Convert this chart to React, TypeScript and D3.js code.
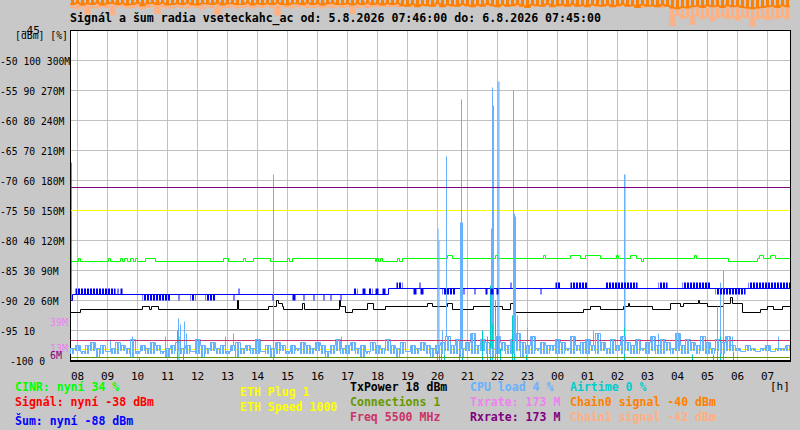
import { useEffect, useRef } from 'react';
import * as d3 from 'd3';

const START = new Date(2026, 7, 5, 7, 46);
const END = new Date(2026, 7, 6, 7, 46);

const title = 'Signál a šum radia vseteckahc_ac od: 5.8.2026 07:46:00 do: 6.8.2026 07:45:00';

// left axis: dBm / % / rate columns
const dbmTicks = [-50, -55, -60, -65, -70, -75, -80, -85, -90, -95, -100];
const pctTicks = [100, 90, 80, 70, 60, 50, 40, 30, 20, 10, 0];
const rateTicks = ['300M', '270M', '240M', '210M', '180M', '150M', '120M', '90M', '60M', '', ''];
const txrateMarks = [39, 13];
const rxrateMarks = [6];

// flat series
const txrateNow = 173;
const rxrateNow = 173;
const ethSpeedLevel = 150;
const ethPlugLevel = 11;
const freqLevel = 20;
const connectionsNow = 1;

// CINR [%], step changes
const cinrSteps: [string, number][] = [
  ['07:46', 33], ['08:02', 34], ['08:06', 33], ['09:02', 34], ['09:06', 33],
  ['09:26', 34], ['09:30', 33], ['09:34', 34], ['09:40', 33], ['09:46', 34], ['09:52', 33], ['09:56', 34], ['10:00', 33],
  ['10:16', 34], ['10:36', 33], ['12:52', 34], ['13:02', 33], ['13:32', 34], ['13:36', 33],
  ['13:52', 34], ['14:26', 33], ['15:00', 34], ['15:04', 33], ['15:10', 34],
  ['17:56', 33], ['17:58', 34], ['18:02', 33], ['18:06', 34], ['18:10', 33], ['18:40', 34], ['18:44', 33], ['18:50', 34],
  ['20:20', 35], ['20:30', 34], ['21:56', 35], ['22:00', 34], ['23:32', 35], ['23:36', 34],
  ['00:26', 35], ['00:46', 34], ['00:56', 35], ['01:26', 34], ['01:58', 35], ['02:02', 34],
  ['02:26', 35], ['02:38', 34], ['02:48', 33], ['02:52', 34], ['04:34', 35], ['04:38', 34],
  ['05:42', 33], ['06:40', 34], ['06:44', 35], ['06:52', 34], ['07:06', 35], ['07:16', 34],
];

// noise [dBm]
const noiseSteps: [string, number][] = [['07:46', -67], ['07:47', -90], ['07:50', -89], ['18:22', -88]];
const noiseBursts: [string, string, number][] = [
  ['07:56', '09:16', -88], ['09:20', '09:22', -88], ['09:26', '09:30', -88],
  ['10:10', '11:06', -90], ['11:22', '11:24', -90], ['11:46', '11:56', -90], ['12:16', '12:36', -90], ['13:12', '13:14', -90],
  ['13:22', '13:24', -88],
  ['14:30', '14:32', -90], ['15:10', '15:16', -90], ['15:32', '15:34', -90], ['15:52', '15:54', -90],
  ['16:12', '16:14', -90], ['16:26', '16:28', -90], ['16:46', '16:48', -90],
  ['17:12', '17:20', -88], ['17:30', '17:36', -88], ['17:42', '17:50', -88], ['17:56', '18:02', -88], ['18:10', '18:16', -88],
  ['18:38', '18:50', -87], ['19:24', '19:26', -87],
  ['19:12', '19:18', -89], ['19:26', '19:32', -89], ['20:10', '20:36', -89], ['20:52', '20:54', -89], ['21:14', '21:16', -89],
  ['21:36', '21:40', -89], ['21:46', '21:52', -89], ['21:58', '22:02', -89],
  ['22:26', '22:28', -87], ['23:26', '23:28', -89],
  ['23:56', '00:06', -87], ['00:26', '01:00', -87], ['01:36', '02:40', -87], ['03:22', '03:40', -87],
  ['04:10', '05:06', -87], ['05:16', '06:16', -89], ['06:22', '07:45', -87],
];

// TxPower [dBm], plotted on the % scale
const txPowerSteps: [string, number][] = [
  ['07:46', 16], ['08:06', 17], ['10:10', 18], ['10:24', 17], ['10:28', 18], ['10:42', 17],
  ['13:20', 20], ['13:22', 17], ['14:22', 18], ['14:38', 20], ['14:42', 19], ['14:50', 18], ['14:52', 17],
  ['15:30', 19], ['15:34', 17], ['16:44', 20], ['16:46', 18], ['16:56', 16], ['17:10', 17],
  ['17:40', 19], ['17:52', 17], ['18:16', 18], ['19:40', 19], ['19:50', 18], ['20:20', 19], ['20:30', 17],
  ['21:12', 18], ['22:10', 17], ['22:26', 19], ['22:32', 16],
  ['00:52', 17], ['01:06', 18], ['01:26', 17], ['02:12', 18], ['02:22', 19], ['02:24', 18], ['03:10', 17],
  ['03:46', 19], ['04:06', 18], ['04:12', 19], ['04:42', 20], ['04:44', 19], ['05:00', 18],
  ['05:32', 19], ['05:46', 21], ['05:50', 19], ['06:10', 16], ['06:46', 17], ['07:00', 18], ['07:12', 17], ['07:30', 18],
];

// CPU load [%], highest and lowest value in each 10 minutes from 07:46
const cpuLoad = [
  4, 5, 3, 5, 6, 4, 5, 3, 4, 6, 5, 4, 7, 3, 5, 4, 6, 5, 3, 4,
  5, 6, 4, 5, 3, 7, 5, 4, 6, 4, 5, 3, 5, 6, 4, 5, 4, 7, 3, 5,
  4, 6, 5, 3, 5, 4, 6, 5,
  4, 6, 5, 3, 5, 7, 4, 5, 6, 4, 5, 3, 6, 5, 4, 7, 5, 4, 6, 3,
  5, 4, 6, 5, 4, 5,
  6, 8, 5, 7, 4, 6, 9, 5, 7, 6, 4, 8, 6, 5, 7, 9, 6, 5, 8, 4, 6, 5,
  5, 7, 6, 4, 8, 5, 6, 7, 5, 9, 6, 4, 7, 5, 8, 6, 5, 7, 4, 6,
  8, 5, 7, 6, 4, 9, 5, 7, 6, 5, 8, 6, 4, 7, 6, 8, 5,
  4, 3, 5, 4, 3, 4, 5, 3, 4, 4, 5,
];
const cpuLow = [
  2, 3, 2, 2, 3, 1, 2, 3, 2, 2, 3, 2, 1, 2, 3, 2, 2, 3, 2, 1,
  2, 3, 2, 2, 3, 2, 1, 2, 3, 2, 2, 2, 3, 1, 2, 3, 2, 2, 3, 2,
  1, 2, 3, 2, 2, 3, 2, 2,
  2, 3, 2, 1, 2, 3, 2, 2, 3, 2, 1, 2, 3, 2, 2, 3, 2, 1, 2, 3,
  2, 2, 3, 2, 1, 2,
  2, 3, 2, 2, 1, 3, 2, 2, 3, 2, 1, 2, 3, 2, 2, 3, 1, 2, 2, 3, 2, 2,
  3, 2, 2, 3, 2, 3, 2, 2, 3, 2, 3, 2, 2, 3, 2, 3, 2, 2, 3, 2,
  3, 2, 2, 3, 2, 3, 2, 2, 3, 2, 3, 2, 2, 3, 2, 3, 3,
  3, 3, 3, 3, 3, 3, 3, 3, 3, 3, 3,
];
const cpuSpikes: [string, number][] = [
  ['09:06', 7], ['09:50', 8], ['10:56', 8], ['11:22', 14], ['11:26', 12], ['11:34', 13], ['11:38', 9],
  ['12:56', 8], ['13:12', 9], ['14:32', 62], ['16:48', 8],
  ['20:01', 44], ['20:03', 40], ['20:10', 10], ['20:18', 68], ['20:46', 46], ['20:48', 87], ['20:50', 46],
  ['21:48', 44], ['21:50', 91], ['21:52', 85], ['22:01', 93], ['22:03', 93], ['22:32', 90], ['22:34', 49],
  ['22:36', 48], ['22:40', 15], ['23:00', 11],
  ['01:12', 10], ['02:14', 62], ['02:15', 62], ['03:22', 9], ['05:20', 18], ['05:26', 26], ['05:32', 30],
  ['05:50', 8], ['07:22', 8],
];

// Airtime [%]
const airtimeSpikes: [string, number][] = [
  ['10:04', 1], ['11:20', 10], ['11:23', 8], ['11:32', 3], ['14:32', 3],
  ['20:00', 3], ['20:04', 2], ['20:08', 3], ['20:14', 2], ['20:44', 3], ['20:50', 2],
  ['21:30', 10], ['21:40', 8], ['21:46', 25], ['21:50', 12], ['21:56', 20], ['22:00', 8], ['22:06', 4],
  ['22:30', 15], ['22:34', 5], ['22:58', 2],
  ['02:14', 11], ['04:30', 2], ['05:12', 2], ['05:20', 6], ['05:26', 8], ['05:32', 7], ['05:52', 3],
];

// chain signals [dBm], lowest value in each 10 minutes from 07:46
const chain0 = [
  -40.7, -40.5, -40.8, -40.6, -40.7, -40.5, -40.8, -40.6, -40.5, -40.7,
  -40.6, -40.8, -40.7, -40.5, -40.9, -40.6, -40.5, -40.7, -40.5, -40.8,
  -40.7, -40.6, -40.7, -40.5, -40.7, -40.8, -40.6, -40.6, -40.7, -40.5,
  -40.8, -40.6, -40.6, -40.7, -40.7, -40.5, -40.8, -40.6, -40.7, -40.6,
  -40.7, -40.5, -40.7, -40.8, -40.6, -40.6, -40.7, -40.5, -40.7, -40.6,
  -40.8, -40.6, -40.5, -40.7, -40.7, -40.6, -40.8, -40.6, -40.7, -40.5,
  -40.7, -40.6, -40.8, -40.6, -40.7, -40.6,
  -40.9, -41, -40.7, -41.1, -40.8, -40.9, -41, -40.6, -41.1, -40.8,
  -40.9, -41, -40.7, -40.9, -41.1, -40.8, -41, -40.7, -40.9, -41.1,
  -40.8, -41, -40.9, -40.7, -41, -41.2, -40.8, -40.9, -41, -40.7,
  -41.1, -40.9, -40.8, -41, -40.7, -41, -40.9, -41.1, -40.8, -40.9,
  -41, -40.8, -41.1, -40.9, -40.7, -41, -40.9, -41.2, -40.8, -41,
  -40.9, -41.1, -40.8, -41,
  -41.3, -41.4, -41.2, -41.3, -41.1, -41, -41.2, -40.9, -41.1, -41,
  -41.2, -40.9, -41.1, -41, -41.2, -41.3, -41.4, -41.3, -41.2, -41.1,
  -41, -41.2, -40.9, -41.1,
];
const chain1 = [
  -41.2, -41.4, -41.1, -42.3, -41.2, -41.3, -41, -41.2, -42.4, -41.1,
  -41, -41.3, -41.2, -41.1, -41.4, -41.2, -41, -42.2, -41.1, -41.3,
  -41.3, -41.1, -41.2, -41.3, -41, -41.2, -41.4, -41.1, -41.2, -42.3,
  -41.3, -41.2, -41, -41.3, -41.2, -41.1, -41.3, -41.1, -41.2, -41,
  -41.2, -42.4, -41.1, -41.2, -41.3, -41.1, -41, -41.2, -41.2, -41.1,
  -41.3, -41.1, -41.2, -41, -41.2, -41.1, -42.2, -41.2, -41.1, -41.2,
  -41, -41.1, -41, -41.1, -41, -41.1,
  -41, -40.8, -41.1, -40.9, -41, -40.7, -41.1, -40.9, -40.8, -41,
  -41.1, -40.8, -40.9, -41, -40.7, -41.1, -40.9, -41, -40.8, -41.1,
  -40.9, -41, -40.8, -41.1, -40.9, -40.7, -41, -40.9, -41.1, -40.8,
  -41, -40.9, -41.1, -40.8, -41, -40.9, -40.7, -41, -40.8, -41.1,
  -40.9, -41, -40.8, -41.1, -40.9, -41, -40.8, -41, -41.2, -40.9,
  -41.1, -41, -41.2, -40.9,
  -44.2, -42.5, -43, -42.8, -44, -42.6, -43.1, -42.7, -43.4, -42.9,
  -42.6, -43, -42.8, -43.3, -42.7, -42.9, -44.3, -43.1, -42.8, -43.2,
  -42.9, -43, -42.7, -43.1,
];

const legendLabels = [
  'CINR: nyní 34 %', 'Signál: nyní -38 dBm', 'Šum: nyní -88 dBm',
  'ETH Plug 1', 'ETH Speed 1000',
  'TxPower 18 dBm', 'Connections 1', 'Freq 5500 MHz',
  'CPU load 4 %', 'Txrate: 173 M', 'Rxrate: 173 M',
  'Airtime 0 %', 'Chain0 signal -40 dBm', 'Chain1 signal -42 dBm',
];

const C = {
  bg: '#c8c8c8', grid: '#c0c0c0',
  cinr: '#00ff00', signal: '#ff0000', noise: '#0000ff', eth: '#ffff00', tx: '#000000',
  conn: '#669900', freq: '#cc3366', cpu: '#66b2ff', txrate: '#ee82ee', rxrate: '#800080',
  air: '#00cccc', chain0: '#ff8000', chain1: '#ffb080',
};
const MONO = "'DejaVu Sans Mono', monospace";

const at = (s: string) => {
  const [h, m] = s.split(':').map(Number);
  const day = h * 60 + m < 7 * 60 + 46 ? 6 : 5;
  return new Date(2026, 7, day, h, m);
};

export default function App() {
  const svgRef = useRef<SVGSVGElement>(null);

  useEffect(() => {
    if (!svgRef.current) return;
    const svg = d3.select(svgRef.current);
    svg.selectAll('*').remove();

    const x = d3.scaleTime().domain([START, END]).range([70, 790]);
    const yDbm = d3.scaleLinear().domain([-100, -45]).range([360, 30]);
    const yPct = d3.scaleLinear().domain([0, 110]).range([360, 30]);
    const yRate = d3.scaleLinear().domain([0, 330]).range([360, 30]);
    const tAt = (i: number) => d3.timeMinute.offset(START, 10 * i);
    const extend = (a: number[]) => [...a, a[a.length - 1]];

    const defs = svg.append('defs');
    const pattern = (id: string, color: string, period: number, fill: number, offset: number) => {
      const p = defs.append('pattern').attr('id', id).attr('patternUnits', 'userSpaceOnUse')
        .attr('width', period).attr('height', 4);
      p.append('rect').attr('x', offset).attr('width', fill).attr('height', 4).attr('fill', color);
    };
    pattern('p-noise', C.noise, 3, 2, 0);
    pattern('p-cpu', C.cpu, 3, 2, 0);

    svg.append('rect').attr('width', 800).attr('height', 430).attr('fill', C.bg);

    // chain signals run off the top of the plot, above the title
    const chains = svg.append('g');
    const drawChain = (data: number[], color: string) => {
      const pts: [number, number][] = extend(data).map((v, i) => [x(tAt(i)), yDbm(v)]);
      chains.append('g').selectAll('line').data(data).enter().append('line')
        .attr('x1', (_, i) => x(tAt(i)) + 2.5).attr('x2', (_, i) => x(tAt(i)) + 2.5)
        .attr('y1', 0).attr('y2', v => yDbm(v))
        .attr('stroke', color).attr('stroke-width', 3);
      chains.append('path').attr('d', d3.line().curve(d3.curveStepAfter)(pts))
        .attr('fill', 'none').attr('stroke', color).attr('stroke-width', 1.5);
    };
    drawChain(chain1, C.chain1);
    drawChain(chain0, C.chain0);

    svg.append('text').attr('x', 70).attr('y', 22).text(title)
      .attr('font-family', MONO).attr('font-weight', 'bold').attr('font-size', 12)
      .attr('textLength', 531).attr('lengthAdjust', 'spacingAndGlyphs').attr('fill', '#000');

    svg.append('rect').attr('x', 70).attr('y', 30).attr('width', 720).attr('height', 330).attr('fill', '#fff');

    const g = svg.append('g').attr('transform', 'translate(0.5,0.5)');
    const hours = x.ticks(d3.timeHour.every(1)!);

    // grid
    g.append('g').selectAll('line').data(hours).enter().append('line')
      .attr('x1', d => x(d)).attr('x2', d => x(d)).attr('y1', 30).attr('y2', 360)
      .attr('stroke', C.grid);
    g.append('g').selectAll('line').data(dbmTicks.slice(0, -1)).enter().append('line')
      .attr('x1', 70).attr('x2', 790).attr('y1', d => yDbm(d)).attr('y2', d => yDbm(d))
      .attr('stroke', C.grid);

    const stepPath = (steps: [string, number][], y: d3.ScaleLinear<number, number>) => {
      const pts: [number, number][] = steps.map(([t, v]) => [x(at(t)), y(v)]);
      pts.push([x(END), pts[pts.length - 1][1]]);
      return d3.line().curve(d3.curveStepAfter)(pts);
    };
    const flat = (y: number, color: string) =>
      g.append('line').attr('x1', 70).attr('x2', 790).attr('y1', y).attr('y2', y).attr('stroke', color);

    // CINR
    g.append('path').attr('d', stepPath(cinrSteps, yPct)).attr('fill', 'none').attr('stroke', C.cinr);

    // noise: base line plus fast flicker bursts
    const baseNoise = (t: Date) => {
      let v = noiseSteps[0][1];
      noiseSteps.forEach(([s, n]) => { if (at(s) <= t) v = n; });
      return v;
    };
    svg.append('g').selectAll('rect').data(noiseBursts).enter().append('rect')
      .attr('x', d => x(at(d[0])) + 0.5)
      .attr('width', d => Math.max(1, x(at(d[1])) - x(at(d[0]))))
      .attr('y', d => Math.min(yDbm(d[2]), yDbm(baseNoise(at(d[0])))) + 0.5)
      .attr('height', d => Math.abs(yDbm(d[2]) - yDbm(baseNoise(at(d[0])))))
      .attr('fill', d => (x(at(d[1])) - x(at(d[0])) > 3 ? 'url(#p-noise)' : C.noise));
    g.append('path').attr('d', stepPath(noiseSteps, yDbm)).attr('fill', 'none').attr('stroke', C.noise);

    // TxPower
    g.append('path').attr('d', stepPath(txPowerSteps, yPct)).attr('fill', 'none').attr('stroke', C.tx);

    flat(yRate(ethSpeedLevel), C.eth);
    flat(yRate(ethPlugLevel), C.eth);

    // CPU load: band between low and high of each interval, plus spikes
    const lows = extend(cpuLow);
    const cpuBand = d3.area<number>().curve(d3.curveStepAfter)
      .x((_, i) => x(tAt(i))).y0((_, i) => yPct(lows[i])).y1(v => yPct(v));
    svg.append('path').attr('d', cpuBand(extend(cpuLoad))).attr('fill', 'url(#p-cpu)');
    const cpuPts: [number, number][] = extend(cpuLoad).map((v, i) => [x(tAt(i)), yPct(v)]);
    g.append('path').attr('d', d3.line().curve(d3.curveStepAfter)(cpuPts)).attr('fill', 'none').attr('stroke', C.cpu);
    const cpuBase = (t: Date) => cpuLoad[Math.min(cpuLoad.length - 1, Math.floor((+t - +START) / 600000))];
    g.append('g').selectAll('line').data(cpuSpikes).enter().append('line')
      .attr('x1', d => x(at(d[0]))).attr('x2', d => x(at(d[0])))
      .attr('y1', d => yPct(cpuBase(at(d[0])))).attr('y2', d => yPct(d[1]))
      .attr('stroke', C.cpu);

    // airtime
    g.append('g').selectAll('line').data(airtimeSpikes).enter().append('line')
      .attr('x1', d => x(at(d[0]))).attr('x2', d => x(at(d[0])))
      .attr('y1', yPct(0)).attr('y2', d => yPct(d[1]))
      .attr('stroke', C.air);

    flat(yRate(freqLevel), C.freq);
    flat(yPct(connectionsNow), C.conn);
    flat(yRate(txrateNow), C.txrate);
    flat(yRate(rxrateNow), C.rxrate);

    // frame
    g.append('rect').attr('x', 70).attr('y', 30).attr('width', 720).attr('height', 330)
      .attr('fill', 'none').attr('stroke', '#000');
    svg.append('line').attr('x1', 70).attr('x2', 791).attr('y1', 361.5).attr('y2', 361.5).attr('stroke', '#000');

    // left axis labels
    const left = svg.append('g').attr('font-family', MONO).attr('font-size', 11).attr('fill', '#000');
    left.append('text').attr('x', 20).attr('y', 33.5).text('-45');
    left.append('text').attr('x', 15).attr('y', 39).text('[dBm] [%]')
      .attr('textLength', 53).attr('lengthAdjust', 'spacingAndGlyphs');
    dbmTicks.forEach((d, i) => {
      const s = [String(d), String(pctTicks[i]), rateTicks[i]].filter(Boolean).join(' ');
      left.append('text').attr('x', d <= -100 ? 10 : 0).attr('y', yDbm(d) + 4.5).text(s)
        .attr('textLength', s.length * 5.85).attr('lengthAdjust', 'spacingAndGlyphs');
    });
    const marks: [number, string][] = [
      ...txrateMarks.map(v => [v, C.txrate] as [number, string]),
      ...rxrateMarks.map(v => [v, C.rxrate] as [number, string]),
    ];
    marks.forEach(([v, color]) => {
      const s = `${v}M`;
      left.append('text').attr('x', 50).attr('y', yRate(v) + 4.5).text(s).attr('fill', color)
        .attr('textLength', s.length * 6).attr('lengthAdjust', 'spacingAndGlyphs');
    });

    // time axis
    svg.append('g').attr('transform', 'translate(0,360)')
      .call(d3.axisBottom(x).ticks(d3.timeHour.every(1)!).tickFormat(d => d3.timeFormat('%H')(d as Date))
        .tickSize(0).tickPadding(12.5))
      .call(a => a.select('.domain').remove())
      .call(a => a.selectAll('.tick text').attr('font-family', MONO).attr('font-size', 11).attr('fill', '#000'));
    svg.append('text').attr('x', 770).attr('y', 390).text('[h]')
      .attr('font-family', MONO).attr('font-size', 11).attr('fill', '#000');

    // legend
    const legendLayout: [number, number, string][] = [
      [15, 391, C.cinr], [15, 406, C.signal], [15, 425, C.noise],
      [240, 396, C.eth], [240, 411, C.eth],
      [350, 391, C.tx], [350, 406, C.conn], [350, 421, C.freq],
      [470, 391, C.cpu], [470, 406, C.txrate], [470, 421, C.rxrate],
      [570, 391, C.air], [570, 406, C.chain0], [570, 421, C.chain1],
    ];
    const legend = svg.append('g').attr('font-family', MONO).attr('font-weight', 'bold').attr('font-size', 11.5);
    legendLabels.forEach((s, i) => {
      const [lx, ly, color] = legendLayout[i];
      legend.append('text').attr('x', lx).attr('y', ly).text(s).attr('fill', color)
        .attr('textLength', s.length * 6.95).attr('lengthAdjust', 'spacingAndGlyphs');
    });
  }, []);

  return (
    <svg ref={svgRef} width={800} height={430} style={{ position: 'absolute', left: 0, top: 0 }} />
  );
}
